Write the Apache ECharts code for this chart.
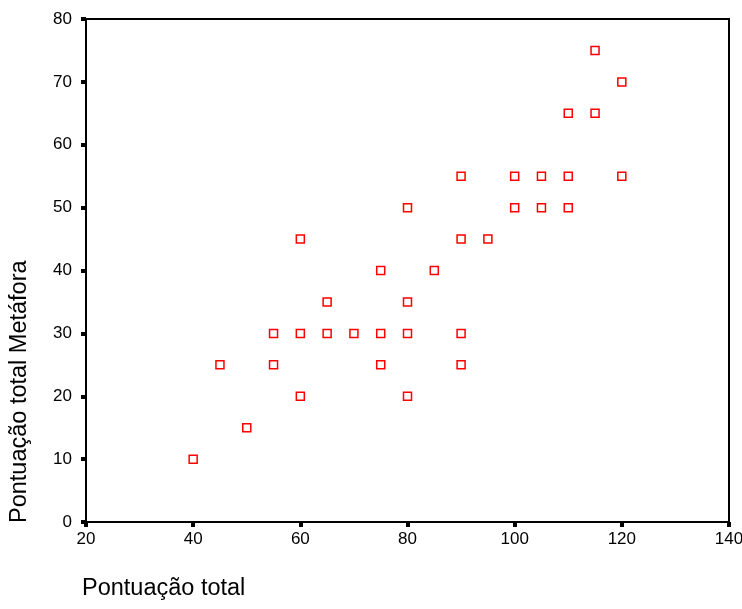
<!DOCTYPE html>
<html><head><meta charset="utf-8">
<script src="https://cdn.jsdelivr.net/npm/echarts@6/dist/echarts.min.js"></script>
<style>html,body{margin:0;padding:0;background:#fff}#c{width:742px;height:609px}</style>
</head><body><div id="c"></div>
<script>
const xValues = [40,45,50,55,55,60,60,60,65,65,70,75,75,75,80,80,80,80,85,90,90,90,90,95,100,100,105,105,110,110,110,115,115,120,120];
const yValues = [10,25,15,30,25,45,30,20,35,30,30,40,30,25,50,35,30,20,40,55,45,30,25,45,55,50,55,50,65,55,50,75,65,70,55];
const xTitle = 'Pontuação total';
const yTitle = 'Pontuação total Metáfora';

const chart = echarts.init(document.getElementById('c'));
const pts = xValues.map((x,i)=>[x,yValues[i]]);
const font = "'Liberation Sans', Arial, sans-serif";
chart.setOption({
  animation:false,
  grid:{left:86,right:13,top:19,bottom:87,show:true,borderColor:'#000',borderWidth:2,backgroundColor:'transparent',containLabel:false,outerBoundsMode:'none'},
  xAxis:{type:'value',min:20,max:140,interval:20,
    axisLine:{show:true,onZero:false,lineStyle:{color:'#000',width:2}},
    axisTick:{show:true,length:5,lineStyle:{color:'#000',width:4}},
    splitLine:{show:false},
    axisLabel:{color:'#000',fontSize:17,fontFamily:font,margin:9}},
  yAxis:{type:'value',min:0,max:80,interval:10,
    axisLine:{show:true,lineStyle:{color:'#000',width:2}},
    axisTick:{show:true,length:5,lineStyle:{color:'#000',width:4}},
    splitLine:{show:false},
    axisLabel:{color:'#000',fontSize:17,fontFamily:font,margin:14}},
  graphic:[
    {type:'text',left:82,top:577,style:{text:xTitle,fontSize:23.5,fontFamily:font,fill:'#000'}},
    {type:'text',x:8,y:523,rotation:Math.PI/2,style:{text:yTitle,fontSize:23.5,fontFamily:font,fill:'#000',textAlign:'left',textVerticalAlign:'top'}}
  ],
  series:[{type:'scatter',data:pts,symbol:'rect',symbolSize:8,
    itemStyle:{color:'#fff',borderColor:'#ff0000',borderWidth:1.5,opacity:1}}]
});
</script></body></html>
